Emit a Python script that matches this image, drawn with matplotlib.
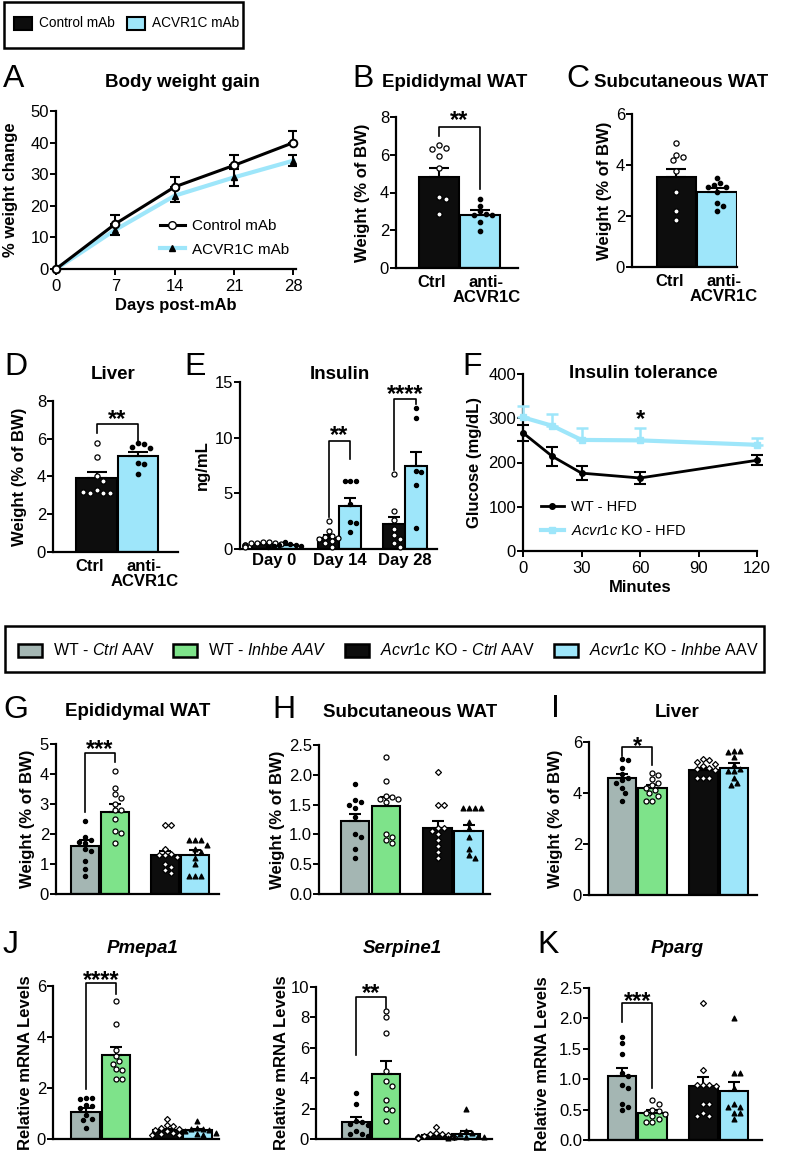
import numpy as np
import matplotlib.pyplot as plt
from matplotlib.patches import Rectangle
from matplotlib.lines import Line2D

plt.rcParams['font.family'] = ['Liberation Sans', 'DejaVu Sans']
plt.rcParams['mathtext.fontset'] = 'custom'
plt.rcParams['mathtext.rm'] = 'Liberation Sans'
plt.rcParams['mathtext.it'] = 'Liberation Sans:italic'
plt.rcParams['mathtext.bf'] = 'Liberation Sans:bold'

#colours
BLACK = '#0d0d0d'
BLUE = '#9ee6fa'
GRAY = '#a4b6b3'
GREEN = '#7ee38a'

# ---------------- data ----------------
# A: body weight gain
a_days = [0, 7, 14, 21, 28]
a_ctrl = [0, 14.3, 26.0, 32.8, 40.0]
a_ctrl_sem = [0, 2.8, 3.0, 3.4, 3.8]
a_acv = [0, 12.4, 23.2, 29.0, 34.3]
a_acv_sem = [0, 1.5, 2.0, 2.6, 1.7]

# B, C, D: Ctrl vs anti-ACVR1C
mab_labels = ['Ctrl', 'anti-\nACVR1C']
b_means = [4.8, 2.8]
b_sem = [0.52, 0.25]
b_ctrl_pts = [6.5, 6.35, 6.3, 5.95, 5.3, 3.75, 3.65, 2.85]
b_acv_pts = [3.65, 3.3, 3.0, 2.85, 2.8, 2.8, 2.45, 1.95]

c_means = [3.53, 2.94]
c_sem = [0.33, 0.17]
c_ctrl_pts = [4.86, 4.4, 4.3, 4.2, 3.75, 2.93, 2.18, 1.83]
c_acv_pts = [3.5, 3.3, 3.2, 3.15, 3.15, 2.95, 2.5, 2.4, 2.2]

d_means = [3.9, 5.08]
d_sem = [0.36, 0.21]
d_ctrl_pts = [5.8, 5.05, 4.0, 3.75, 3.3, 3.15, 3.1, 3.15, 3.2]
d_acv_pts = [5.75, 5.7, 5.55, 5.5, 4.7, 4.65, 4.15]

# E: insulin
e_days = ['Day 0', 'Day 14', 'Day 28']
e_ctrl = [0.45, 1.0, 2.25]
e_ctrl_sem = [0.05, 0.25, 0.65]
e_acv = [0.35, 3.86, 7.45]
e_acv_sem = [0.05, 0.7, 1.25]
e_ctrl_pts = [[0.6, 0.6, 0.55, 0.55, 0.5, 0.45, 0.4, 0.35, 0.3, 0.2],
              [2.5, 1.65, 1.2, 1.1, 1.0, 0.9, 0.7, 0.5, 0.2],
              [6.7, 3.45, 2.6, 1.8, 1.3, 0.9, 0.5, 0.2]]
e_acv_pts = [[0.6, 0.45, 0.4, 0.35, 0.3, 0.25, 0.2],
             [6.1, 6.1, 6.1, 4.05, 2.4, 2.3, 1.55],
             [12.7, 11.8, 7.0, 6.95, 5.75, 1.9]]

# F: insulin tolerance
f_min = [0, 15, 30, 60, 120]
f_wt = [267, 214, 176, 165, 205]
f_wt_sem = [18, 22, 16, 14, 11]
f_ko = [302, 283, 251, 250, 240]
f_ko_sem = [25, 27, 27, 27, 16]

# G-K: four AAV groups (WT-Ctrl, WT-Inhbe, KO-Ctrl, KO-Inhbe)
g_means = [1.6, 2.75, 1.3, 1.3]
g_sem = [0.2, 0.25, 0.15, 0.18]
g_pts = [[2.45, 1.9, 1.8, 1.75, 1.7, 1.5, 1.45, 1.1, 0.85, 0.6],
         [4.1, 3.55, 3.35, 3.2, 3.0, 2.8, 2.8, 2.5, 2.1, 2.05, 1.7],
         [2.3, 2.3, 1.5, 1.35, 1.3, 1.3, 1.25, 1.0, 0.9, 0.8, 0.7],
         [1.8, 1.8, 1.8, 1.65, 1.5, 1.4, 1.2, 1.0, 0.6, 0.6, 0.6]]

h_means = [1.22, 1.48, 1.1, 1.05]
h_sem = [0.13, 0.14, 0.12, 0.1]
h_pts = [[1.85, 1.57, 1.55, 1.5, 1.45, 1.3, 1.0, 0.95, 0.75, 0.6],
         [2.3, 1.9, 1.65, 1.62, 1.6, 1.6, 1.55, 1.0, 0.95, 0.9, 0.85],
         [2.05, 1.5, 1.5, 1.1, 1.1, 1.05, 1.0, 0.9, 0.8, 0.7, 0.6],
         [1.45, 1.45, 1.45, 1.45, 1.2, 1.1, 0.95, 0.75, 0.65, 0.6]]

i_means = [4.6, 4.2, 4.9, 5.0]
i_sem = [0.15, 0.12, 0.08, 0.17]
i_pts = [[5.35, 5.3, 5.0, 4.75, 4.6, 4.5, 4.4, 4.2, 4.0, 3.7],
         [4.8, 4.7, 4.55, 4.4, 4.3, 4.2, 4.1, 4.0, 3.9, 3.7, 3.7],
         [5.35, 5.3, 5.2, 5.15, 5.05, 5.0, 4.95, 4.9, 4.6, 4.6, 4.6],
         [5.65, 5.65, 5.6, 5.4, 5.1, 4.95, 4.85, 4.85, 4.6, 4.4, 4.3]]

j_means = [1.05, 3.3, 0.35, 0.35]
j_sem = [0.15, 0.32, 0.06, 0.06]
j_pts = [[1.6, 1.6, 1.55, 1.35, 1.3, 1.2, 0.95, 0.8, 0.75, 0.45],
         [5.4, 4.5, 3.5, 3.25, 3.05, 2.95, 2.75, 2.7, 2.35, 2.35],
         [0.8, 0.55, 0.5, 0.45, 0.4, 0.35, 0.3, 0.25, 0.2, 0.15, 0.15],
         [0.7, 0.45, 0.4, 0.4, 0.35, 0.3, 0.25, 0.2, 0.15]]

s_means = [1.15, 4.3, 0.25, 0.3]
s_sem = [0.3, 0.85, 0.08, 0.2]
s_pts = [[3.0, 2.3, 1.2, 1.1, 1.0, 0.9, 0.5, 0.3, 0.3, 0.2],
         [8.45, 8.0, 7.0, 4.45, 3.8, 3.5, 2.55, 2.0, 1.9, 1.2],
         [0.8, 0.4, 0.3, 0.3, 0.25, 0.2, 0.15, 0.1, 0.1, 0.05, 0.05],
         [1.95, 0.5, 0.4, 0.3, 0.2, 0.15, 0.1, 0.1, 0.05]]

k_means = [1.05, 0.45, 0.88, 0.8]
k_sem = [0.13, 0.04, 0.15, 0.15]
k_pts = [[1.7, 1.6, 1.42, 1.1, 1.05, 0.9, 0.85, 0.6, 0.55, 0.5],
         [0.65, 0.6, 0.5, 0.48, 0.45, 0.42, 0.4, 0.35, 0.3, 0.3],
         [2.25, 1.15, 0.9, 0.9, 0.9, 0.88, 0.6, 0.6, 0.45, 0.4, 0.4],
         [2.0, 1.1, 1.1, 0.85, 0.6, 0.55, 0.55, 0.45, 0.45, 0.35]]

aav_labels = ['WT - $\\mathit{Ctrl}$ AAV', 'WT - $\\mathit{Inhbe\\ AAV}$',
              '$\\mathit{Acvr1c}$ KO - $\\mathit{Ctrl}$ AAV', '$\\mathit{Acvr1c}$ KO - $\\mathit{Inhbe}$ AAV']

# ---------------- helpers ----------------
W, H = 793, 1173
fig = plt.figure(figsize=(W / 100, H / 100), dpi=100)
STAR = 17


def px_axes(l, t, r, b):
    return fig.add_axes([l / W, 1 - b / H, (r - l) / W, (b - t) / H])


def style(ax, yticks, fmt='{:g}'):
    ax.spines['top'].set_visible(False)
    ax.spines['right'].set_visible(False)
    ax.spines['left'].set_linewidth(1.6)
    ax.spines['bottom'].set_linewidth(1.6)
    ax.set_ylim(yticks[0], yticks[-1])
    ax.set_yticks(yticks)
    ax.set_yticklabels([fmt.format(v) for v in yticks])
    ax.tick_params(axis='y', length=4, width=1.4, labelsize=12, pad=1)
    ax.tick_params(axis='x', length=0, labelsize=12, pad=3)


def ylabel_at(ax, text, right_px, size=12):
    pos = ax.get_position()
    ax.set_ylabel(text, fontsize=size, fontweight='bold')
    ax.yaxis.set_label_coords((right_px - pos.x0 * W) / (pos.width * W), 0.5)


def swarm(ax, x0, vals, d):
    tr = ax.transData
    placed, xs = [], []
    for v in vals:
        cx0, cy = tr.transform((x0, v))
        for k in [0, 1, -1, 2, -2, 3, -3, 4, -4, 5, -5, 6, -6]:
            cx = cx0 + k * d * 0.55
            if all((cx - qx) ** 2 + (cy - qy) ** 2 >= d * d for qx, qy in placed):
                break
        placed.append((cx, cy))
        xs.append(tr.inverted().transform((cx, cy))[0])
    return xs


def points(ax, x0, vals, marker, face, size, d=5.5):
    xs = swarm(ax, x0, vals, d)
    ax.scatter(xs, vals, marker=marker, s=size, facecolor=face, edgecolor='black',
               linewidth=0.9, zorder=4, clip_on=False)


def bars(ax, xpos, means, sems, colors, width, cap):
    ax.bar(xpos, means, width=width, color=colors, edgecolor='black', linewidth=1.5, zorder=2)
    ax.errorbar(xpos, means, yerr=[np.zeros(len(means)), sems], fmt='none', ecolor='black',
                elinewidth=1.5, capsize=cap, capthick=1.5, zorder=3)


def star(ax, x, yc, label):
    ax.annotate(label, (x, yc), xytext=(0, -0.57 * STAR), textcoords='offset points',
                ha='center', va='baseline', fontsize=STAR, fontweight='bold', annotation_clip=False)


def bracket(ax, x1, x2, ytop, yl, yr, label, ystar):
    ax.plot([x1, x1, x2, x2], [yl, ytop, ytop, yr], color='black', lw=1.2, zorder=5, clip_on=False)
    star(ax, (x1 + x2) / 2, ystar, label)


def letter(x, y, s):
    fig.text(x / W, 1 - y / H, s, fontsize=23, ha='left', va='baseline')


def title(x, y, s, ha='center', **kw):
    fig.text(x / W, 1 - y / H, s, fontsize=13.5, fontweight='bold', ha=ha, va='baseline', **kw)


# ---------------- top legend ----------------
fig.patches.append(Rectangle((4 / W, 1 - 48 / H), 239 / W, 46 / H, transform=fig.transFigure,
                             facecolor='none', edgecolor='black', lw=1.8))
for xp, col, lab in [(14, BLACK, 'Control mAb'), (127, BLUE, 'ACVR1C mAb')]:
    fig.patches.append(Rectangle((xp / W, 1 - 30 / H), 18 / W, 13 / H, transform=fig.transFigure,
                                 facecolor=col, edgecolor='black', lw=1.5))
    fig.text((xp + 25) / W, 1 - 23 / H, lab, fontsize=9.8, ha='left', va='center')

# ---------------- A ----------------
ax = px_axes(56, 111, 296, 269)
style(ax, [0, 10, 20, 30, 40, 50])
ax.set_xlim(0, 28.3)
ax.set_xticks(a_days)
ax.tick_params(axis='x', length=4, width=1.4)
ax.errorbar(a_days, a_acv, yerr=a_acv_sem, fmt='none', ecolor='black', elinewidth=1.5,
            capsize=3.5, capthick=1.5, zorder=3)
ax.plot(a_days, a_acv, color=BLUE, lw=3, zorder=2)
ax.plot(a_days, a_acv, ls='none', marker='^', ms=5, color='black', zorder=4, clip_on=False)
ax.errorbar(a_days, a_ctrl, yerr=[np.zeros(5), a_ctrl_sem], fmt='none', ecolor='black',
            elinewidth=1.5, capsize=3.5, capthick=1.5, zorder=3)
ax.plot(a_days, a_ctrl, color='black', lw=2.2, marker='o', ms=5.5, mfc='white', mec='black',
        mew=1.4, zorder=5, clip_on=False)
ax.set_xlabel('Days post-mAb', fontsize=12, fontweight='bold', labelpad=3)
ylabel_at(ax, '% weight change', 18)
hand = [Line2D([], [], color='black', lw=2.2, marker='o', mfc='white', mec='black', ms=5.5),
        Line2D([], [], color=BLUE, lw=3, marker='^', mfc='black', mec='black', ms=5)]
ax.legend(hand, ['Control mAb', 'ACVR1C mAb'], loc='lower right', bbox_to_anchor=(1.03, -0.01),
          frameon=False, fontsize=11, handlelength=1.6, handletextpad=0.5, labelspacing=0.65)
letter(3, 87, 'A')
title(182, 87, 'Body weight gain')


# ---------------- B, C, D ----------------
def mab_panel(rect, xlim, means, sems, ctrl_pts, acv_pts, yticks, lab_right):
    ax = px_axes(*rect)
    ax.set_xlim(*xlim)
    style(ax, yticks)
    bars(ax, [0, 1], means, sems, [BLACK, BLUE], 0.97, 7)
    points(ax, 0, ctrl_pts, 'o', 'white', 14, 6)
    points(ax, 1, acv_pts, 'o', 'black', 10, 5.5)
    ax.set_xticks([])
    for xi, lab, dx in zip([0, 1], mab_labels, [-5, 4.5]):
        ax.annotate(lab, (xi, 0), xycoords=('data', 'axes fraction'), xytext=(dx, -5),
                    textcoords='offset points', ha='center', va='top', fontsize=12,
                    fontweight='bold', multialignment='center', linespacing=1.0)
    ylabel_at(ax, 'Weight (% of BW)', lab_right)
    return ax


ax = mab_panel((396, 117, 518, 268), (-1.05, 1.93), b_means, b_sem, b_ctrl_pts, b_acv_pts,
               [0, 2, 4, 6, 8], 370)
bracket(ax, 0, 1, 7.45, 7.0, 4.2, '**', 8.2)
letter(352, 87, 'B')
title(382, 87, 'Epididymal WAT', ha='left')

ax = mab_panel((632, 114, 737, 267), (-1.085, 1.48), c_means, c_sem, c_ctrl_pts, c_acv_pts,
               [0, 2, 4, 6], 612)
letter(566, 87, 'C')
title(594, 87, 'Subcutaneous WAT', ha='left')

ax = mab_panel((53, 401, 178, 552), (-1.05, 1.96), d_means, d_sem, d_ctrl_pts, d_acv_pts,
               [0, 2, 4, 6, 8], 27)
bracket(ax, 0, 1, 6.76, 6.3, 5.8, '**', 7.4)
letter(4, 375, 'D')
title(113, 379, 'Liver')

# ---------------- E ----------------
ax = px_axes(240, 382, 437, 549)
ax.set_xlim(-0.52, 2.49)
style(ax, [0, 5, 10, 15])
ex = np.arange(3)
bw = 0.335
bars(ax, ex - bw / 2, e_ctrl, e_ctrl_sem, BLACK, bw, 4.5)
bars(ax, ex + bw / 2, e_acv, e_acv_sem, BLUE, bw, 4.5)
for i in range(3):
    points(ax, ex[i] - bw / 2, e_ctrl_pts[i], 'o', 'white', 13, 5.5)
    points(ax, ex[i] + bw / 2, e_acv_pts[i], 'o', 'black', 9, 5)
ax.set_xticks(ex)
ax.set_xticklabels(e_days, fontweight='bold')
ylabel_at(ax, 'ng/mL', 210)
bracket(ax, 1 - bw / 2, 1 + bw / 2, 9.7, 2.9, 8.1, '**', 10.8)
bracket(ax, 2 - bw / 2, 2 + bw / 2, 13.5, 7.1, 13.0, '****', 14.5)
letter(184, 375, 'E')
title(340, 379, 'Insulin')

# ---------------- F ----------------
ax = px_axes(523, 374, 757, 551)
style(ax, [0, 100, 200, 300, 400])
ax.set_xlim(0, 120)
ax.set_xticks([0, 30, 60, 90, 120])
ax.tick_params(axis='x', length=4, width=1.4)
ax.errorbar(f_min, f_ko, yerr=[np.zeros(5), f_ko_sem], fmt='none', ecolor=BLUE, elinewidth=1.8,
            capsize=4, capthick=1.8, zorder=3, clip_on=False)
ax.plot(f_min, f_ko, color=BLUE, lw=3, marker='s', ms=4.5, zorder=3, clip_on=False)
ax.errorbar(f_min, f_wt, yerr=f_wt_sem, fmt='none', ecolor='black', elinewidth=1.5,
            capsize=4, capthick=1.5, zorder=4, clip_on=False)
ax.plot(f_min, f_wt, color='black', lw=2, marker='o', ms=4, zorder=4, clip_on=False)
star(ax, 60, 312, '*')
ax.set_xlabel('Minutes', fontsize=12, fontweight='bold', labelpad=3)
ylabel_at(ax, 'Glucose (mg/dL)', 482)
hand = [Line2D([], [], color='black', lw=2, marker='o', ms=4),
        Line2D([], [], color=BLUE, lw=3, marker='s', ms=4.5)]
ax.legend(hand, ['WT - HFD', '$\\mathit{Acvr1c}$ KO - HFD'], loc='lower left',
          bbox_to_anchor=(0.02, 0.0), frameon=False, fontsize=10.5, handlelength=1.6,
          handletextpad=0.5, labelspacing=0.7)
letter(462, 375, 'F')
title(643, 378, 'Insulin tolerance')

# ---------------- second legend ----------------
aav_colors = [GRAY, GREEN, BLACK, BLUE]
fig.patches.append(Rectangle((5 / W, 1 - 672 / H), 759 / W, 46 / H, transform=fig.transFigure,
                             facecolor='none', edgecolor='black', lw=1.8))
for xp, col, lab in zip([18, 173, 345, 554], aav_colors, aav_labels):
    fig.patches.append(Rectangle((xp / W, 1 - 656.5 / H), 24 / W, 13 / H, transform=fig.transFigure,
                                 facecolor=col, edgecolor='black', lw=1.8))
    fig.text((xp + 35) / W, 1 - 650 / H, lab, fontsize=11.5, ha='left', va='center')

# ---------------- G - K ----------------
GX = [0, 1, 2.67, 3.67]
aav_marker = ['o', 'o', 'D', '^']
aav_face = ['black', 'white', 'white', 'black']
aav_size = [9, 13, 9, 12]


def aav_panel(rect, xlim, means, sems, pts, yticks, ylabel, lab_right, fmt='{:g}'):
    ax = px_axes(*rect)
    ax.set_xlim(*xlim)
    style(ax, yticks, fmt)
    ax.set_xticks([])
    bars(ax, GX, means, sems, aav_colors, 0.93, 4.5)
    for x0, vals, m, f, s in zip(GX, pts, aav_marker, aav_face, aav_size):
        points(ax, x0, vals, m, f, s, 5.5)
    ylabel_at(ax, ylabel, lab_right)
    return ax


ax = aav_panel((56, 744, 219, 894), (-0.97, 4.47), g_means, g_sem, g_pts,
               [0, 1, 2, 3, 4, 5], 'Weight (% of BW)', 35)
bracket(ax, 0, 1, 4.7, 2.75, 4.4, '***', 5.05)
letter(3, 718, 'G')
title(138, 716, 'Epididymal WAT')

ax = aav_panel((319, 745, 490, 894), (-1.16, 4.35), h_means, h_sem, h_pts,
               [0, 0.5, 1.0, 1.5, 2.0, 2.5], 'Weight (% of BW)', 285, '{:.1f}')
letter(272, 718, 'H')
title(410, 717, 'Subcutaneous WAT')

ax = aav_panel((589, 742, 757, 895), (-1.08, 4.43), i_means, i_sem, i_pts,
               [0, 2, 4, 6], 'Weight (% of BW)', 563)
bracket(ax, 0, 1, 5.8, 5.45, 5.1, '*', 6.1)
letter(551, 717, 'I')
title(677, 717, 'Liver')

ax = aav_panel((53, 986, 219, 1139), (-1.07, 4.38), j_means, j_sem, j_pts,
               [0, 2, 4, 6], 'Relative mRNA Levels', 33)
bracket(ax, 0, 1, 6.12, 1.98, 5.7, '****', 6.5)
letter(3, 953, 'J')
title(143, 953, 'Pmepa1', fontstyle='italic')

ax = aav_panel((316, 987, 492, 1139), (-1.33, 4.53), s_means, s_sem, s_pts,
               [0, 2, 4, 6, 8, 10], 'Relative mRNA Levels', 289)
bracket(ax, 0, 1, 9.35, 5.5, 8.6, '**', 10.0)
title(402, 953, 'Serpine1', fontstyle='italic')

ax = aav_panel((589, 988, 762, 1140), (-1.08, 4.59), k_means, k_sem, k_pts,
               [0, 0.5, 1.0, 1.5, 2.0, 2.5], 'Relative mRNA Levels', 550, '{:.1f}')
bracket(ax, 0, 1, 2.25, 1.94, 0.86, '***', 2.4)
letter(537, 953, 'K')
title(677, 953, 'Pparg', fontstyle='italic')

fig.savefig('out.png', dpi=100)
